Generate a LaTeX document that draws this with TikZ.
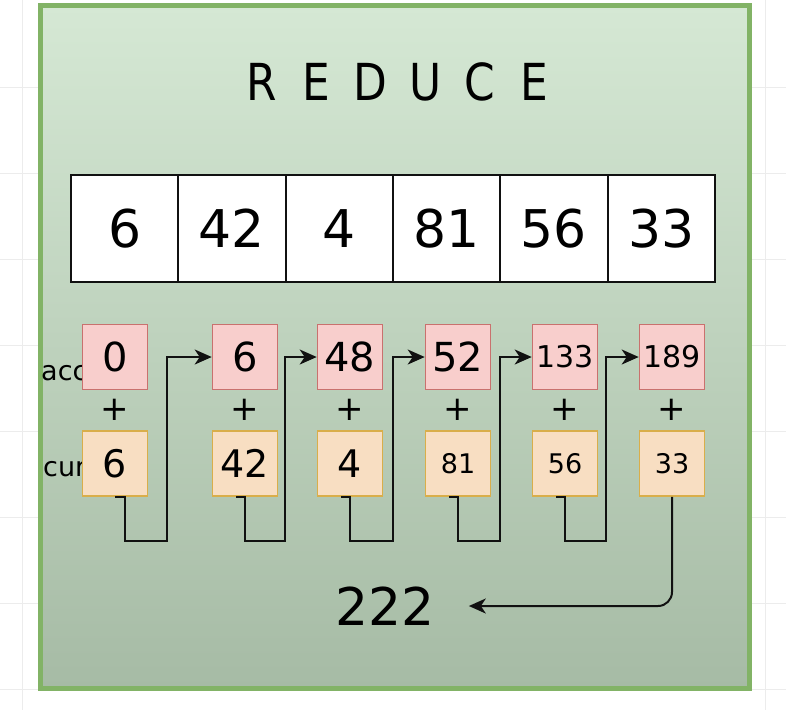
\documentclass[tikz,border=0pt]{standalone}
\usepackage{fontspec}
\usepackage{graphicx}
\setmainfont{DejaVu Sans}
\usetikzlibrary{arrows.meta}
\definecolor{frameline}{HTML}{82B366}
\definecolor{frametop}{HTML}{D5E8D4}
\definecolor{framebot}{HTML}{A6BBA5}
\definecolor{accfill}{HTML}{F8CECC}
\definecolor{accline}{HTML}{C9716E}
\definecolor{curfill}{HTML}{F8DEC2}
\definecolor{curline}{HTML}{D9AE4A}
\definecolor{gridline}{HTML}{ECECEC}
\definecolor{ink}{HTML}{111111}
\newcommand{\titleletter}[1]{\makebox[54.7pt]{\scalebox{0.86}[1]{#1}}}
\begin{document}
\begin{tikzpicture}[x=1pt,y=-1pt,
  cell/.style={draw=ink, line width=1.8pt, fill=white, minimum width=107.33pt, minimum height=107pt, inner sep=0pt, font=\fontsize{52}{60}\selectfont},
  accbox/.style={draw=accline, line width=1.6pt, fill=accfill, minimum size=65pt, inner sep=0pt},
  curbox/.style={draw=curline, line width=1.6pt, fill=curfill, minimum size=65pt, inner sep=0pt},
  bigacc/.style={font=\fontsize{40}{46}\selectfont},
  smallacc/.style={font=\fontsize{30}{36}\selectfont},
  bigcur/.style={font=\fontsize{38}{44}\selectfont},
  smallcur/.style={font=\fontsize{27}{32}\selectfont},
  plussign/.style={inner sep=0pt, font=\fontsize{34}{40}\selectfont},
  sidelabel/.style={inner sep=0pt, anchor=base west, font=\fontsize{27}{32}\selectfont},
  bigtext/.style={inner sep=0pt, font=\fontsize{52}{60}\selectfont},
  titletext/.style={inner sep=0pt, font=\fontsize{51}{60}\selectfont},
  conn/.style={draw=ink, line width=2pt, -{Stealth[length=17pt,width=15pt,inset=5pt]}}
]
\useasboundingbox (0,0) rectangle (786,710);
\fill[white] (0,0) rectangle (786,710);
% editor grid
\foreach \gy in {87,173,259,345,431,517,603,689} \draw[gridline, line width=0.8pt] (0,\gy) -- (786,\gy);
\foreach \gx in {22,765} \draw[gridline, line width=0.8pt] (\gx,0) -- (\gx,710);
% frame
\path[top color=frametop, bottom color=framebot] (40.5,5.5) rectangle (749.5,688.5);
\draw[frameline, line width=5pt] (40.5,5.5) rectangle (749.5,688.5);
% title
\node[titletext] (title) at (398,81.5) {\titleletter{R}\titleletter{E}\titleletter{D}\titleletter{U}\titleletter{C}\titleletter{E}};
% array
\node[cell] (v1) at (124.67,228.5) {\raisebox{-4.5pt}{6}};
\node[cell] (v2) at (232,228.5) {\raisebox{-4.5pt}{42}};
\node[cell] (v3) at (339.33,228.5) {\raisebox{-4.5pt}{4}};
\node[cell] (v4) at (446.67,228.5) {\raisebox{-4.5pt}{81}};
\node[cell] (v5) at (554,228.5) {\raisebox{-4.5pt}{56}};
\node[cell] (v6) at (661.33,228.5) {\raisebox{-4.5pt}{33}};
% side labels (partly under the boxes)
\node[sidelabel] (acclabel) at (41,380) {acc};
\node[sidelabel] (curlabel) at (43,476.5) {cur};
% accumulator boxes
\node[accbox, bigacc] (a1) at (115,357) {\raisebox{-2pt}{0}};
\node[accbox, bigacc] (a2) at (245,357) {\raisebox{-2pt}{6}};
\node[accbox, bigacc] (a3) at (350,357) {\raisebox{-2pt}{48}};
\node[accbox, bigacc] (a4) at (458,357) {\raisebox{-2pt}{52}};
\node[accbox, smallacc] (a5) at (565,357) {\raisebox{-5pt}{133}};
\node[accbox, smallacc] (a6) at (672,357) {\raisebox{-5pt}{189}};
% plus signs
\foreach \i/\px in {1/115,2/245,3/350,4/458,5/565,6/672}
  \node[plussign] (p\i) at (\px,410) {+};
% current boxes
\node[curbox, bigcur] (c1) at (115,463.5) {\raisebox{-4pt}{6}};
\node[curbox, bigcur] (c2) at (245,463.5) {\raisebox{-4pt}{42}};
\node[curbox, bigcur] (c3) at (350,463.5) {\raisebox{-4pt}{4}};
\node[curbox, smallcur] (c4) at (458,463.5) {\raisebox{-5pt}{81}};
\node[curbox, smallcur] (c5) at (565,463.5) {\raisebox{-5pt}{56}};
\node[curbox, smallcur] (c6) at (672,463.5) {\raisebox{-5pt}{33}};
% result
\node[bigtext] (res) at (385,606) {222};
% connectors
\draw[conn] (c1.south) -- ++(10,0) -- ++(0,44) -| ([xshift=-44.5pt]a2.west) -- (a2.west);
\draw[conn] ([xshift=-9pt]c2.south) -- (c2.south) -- ++(0,44) -| ([xshift=-31.5pt]a3.west) -- (a3.west);
\draw[conn] ([xshift=-9pt]c3.south) -- (c3.south) -- ++(0,44) -| ([xshift=-32pt]a4.west) -- (a4.west);
\draw[conn] ([xshift=-9pt]c4.south) -- (c4.south) -- ++(0,44) -| ([xshift=-31.5pt]a5.west) -- (a5.west);
\draw[conn] ([xshift=-9pt]c5.south) -- (c5.south) -- ++(0,44) -| ([xshift=-32.5pt]a6.west) -- (a6.west);
\draw[conn, rounded corners=14pt] (c6.south) |- ([xshift=34pt]res.east);
\end{tikzpicture}
\end{document}
